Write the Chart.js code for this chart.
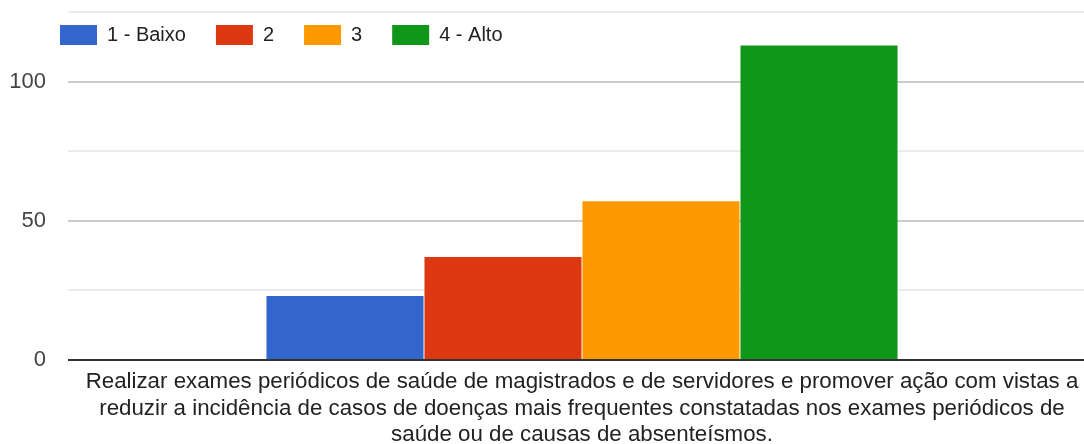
<!DOCTYPE html>
<html>
<head>
<meta charset="utf-8">
<script src="https://cdn.jsdelivr.net/npm/chart.js@4/dist/chart.umd.min.js"></script>
<style>
  html, body { margin: 0; padding: 0; background: #fff; }
  #wrap { width: 1084px; height: 444px; }
</style>
</head>
<body>
<div id="wrap"><canvas id="grafico"></canvas></div>
<script>
var categorias = [[
    "Realizar exames periódicos de saúde de magistrados e de servidores e promover ação com vistas a",
    "reduzir a incidência de casos de doenças mais frequentes constatadas nos exames periódicos de",
    "saúde ou de causas de absenteísmos."
]];
var series = ["1 - Baixo", "2", "3", "4 - Alto"];
var valores = [[23], [37], [57], [113]];
var cores = ["#3366cc", "#dc3912", "#ff9900", "#109618"];
var ticksY = [0, 50, 100];

var fonte = "'Liberation Sans', Arial, sans-serif";

// a legenda fica por cima da area do grafico (nao reserva altura)
var legendaPlugin = {
    id: "legendaPos",
    beforeLayout: function (chart) {
        var leg = chart.legend;
        if (leg && !leg._fitOriginal) {
            leg._fitOriginal = leg.fit;
            leg.fit = function () {
                this._fitOriginal();
                this.height = 0;
            };
        }
    },
    afterLayout: function (chart) {
        var leg = chart.legend;
        if (leg) {
            leg.left = 30;
            leg.top = -5;
            leg.right = chart.width;
            leg.bottom = 70;
            leg.width = leg.right - leg.left;
            leg.height = leg.bottom - leg.top;
        }
    }
};

var datasets = series.map(function (nome, i) {
    return {
        label: nome,
        data: valores[i],
        backgroundColor: cores[i],
        borderWidth: 0,
        barPercentage: 0.994,
        categoryPercentage: 0.6295
    };
});

new Chart(document.getElementById("grafico"), {
    type: "bar",
    data: { labels: categorias, datasets: datasets },
    plugins: [legendaPlugin],
    options: {
        responsive: true,
        maintainAspectRatio: false,
        animation: false,
        layout: { padding: { top: 12, left: 0, right: 0, bottom: 0 } },
        plugins: {
            tooltip: { enabled: false },
            legend: {
                position: "top",
                align: "start",
                labels: {
                    boxWidth: 37,
                    boxHeight: 20,
                    padding: 30,
                    color: "#222",
                    font: { family: fonte, size: 20 }
                }
            }
        },
        scales: {
            x: {
                grid: { display: false },
                border: { display: false },
                ticks: {
                    color: "#222",
                    padding: 1,
                    autoSkip: false,
                    maxRotation: 0,
                    font: { family: fonte, size: 22.3, lineHeight: 1.19 }
                },
                afterFit: function (scale) {
                    scale.height = 84;
                }
            },
            y: {
                min: 0,
                max: 125,
                border: { display: false },
                grid: {
                    lineWidth: 2,
                    drawTicks: true,
                    tickLength: 12,
                    color: function (ctx) {
                        var v = ctx.tick ? ctx.tick.value : 0;
                        if (v === 0) return "#333333";
                        if (ticksY.indexOf(v) >= 0) return "#cccccc";
                        return "#ebebeb";
                    }
                },
                ticks: {
                    stepSize: 25,
                    padding: 22,
                    color: "#444",
                    font: { family: fonte, size: 22 },
                    callback: function (v) {
                        return ticksY.indexOf(v) >= 0 ? String(v) : "";
                    }
                },
                afterFit: function (scale) {
                    scale.width = 80;
                    scale.paddingTop = 12;
                    scale.paddingBottom = 12;
                }
            }
        }
    }
});
</script>
</body>
</html>
